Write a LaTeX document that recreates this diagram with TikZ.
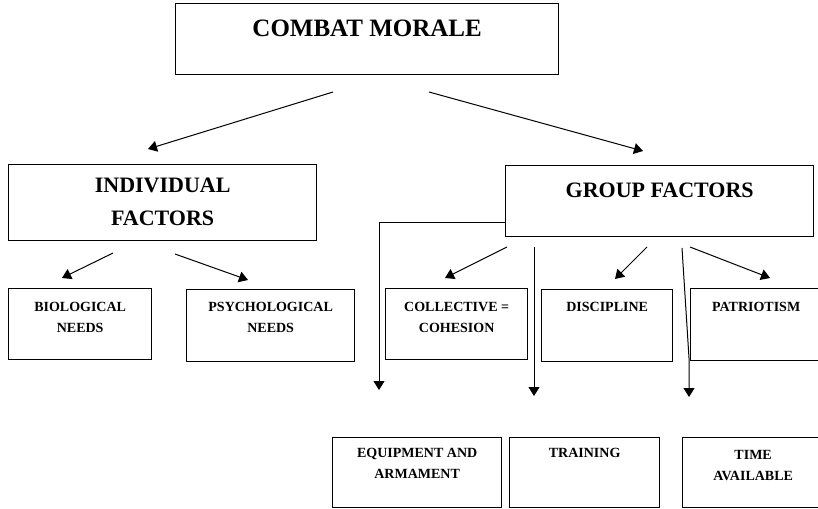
\documentclass[tikz,border=0pt]{standalone}
\usepackage{fontspec}
\setmainfont{Liberation Serif}
\usetikzlibrary{arrows.meta,positioning}
\begin{document}
\begin{tikzpicture}[x=1pt,y=-1pt,
 box/.style={draw, line width=1.3pt, inner sep=0, anchor=north west},
 big/.style={font=\bfseries\fontsize{25}{30}\selectfont, inner sep=0},
 mid/.style={font=\bfseries\fontsize{22}{33}\selectfont, align=center, inner sep=0},
 small/.style={font=\bfseries\fontsize{14}{21}\selectfont, align=center, inner sep=0},
 arr/.style={line width=1pt, -{Triangle[length=9pt,width=11pt]}},
 ln/.style={line width=1pt}]
\useasboundingbox (0,0) rectangle (818,508);
% boxes
\node[box, minimum width=383pt, minimum height=71pt] (cm) at (175,3) {};
\node[box, minimum width=308pt, minimum height=76pt] (ind) at (8,164) {};
\node[box, minimum width=308pt, minimum height=71pt] (gf) at (505,165) {};
\node[box, minimum width=143pt, minimum height=71pt] (bio) at (8,288) {};
\node[box, minimum width=168pt, minimum height=72pt] (psy) at (186,289) {};
\node[box, minimum width=142pt, minimum height=71pt] (col) at (385,288) {};
\node[box, minimum width=131pt, minimum height=72pt] (dis) at (541,289) {};
\node[box, minimum width=131pt, minimum height=72pt] (pat) at (690,288) {};
\node[box, minimum width=169pt, minimum height=70pt] (eq) at (332,437) {};
\node[box, minimum width=150pt, minimum height=70pt] (tr) at (509,437) {};
\node[box, minimum width=141pt, minimum height=70pt] (tim) at (682,437) {};
% texts
\node[big, below=17pt of cm.north] (cmT) {COMBAT MORALE};
\node[mid, below=14pt of ind.north] (indT) {INDIVIDUAL\\FACTORS};
\node[mid, below=18pt of gf.north] (gfT) {GROUP FACTORS};
\node[small, below=14pt of bio.north] (bioT) {BIOLOGICAL\\NEEDS};
\node[small, below=13pt of psy.north] (psyT) {PSYCHOLOGICAL\\NEEDS};
\node[small, below=14pt of col.north] (colT) {COLLECTIVE =\\COHESION};
\node[small, below=13pt of dis.north] (disT) {DISCIPLINE};
\node[small, below=14pt of pat.north] (patT) {PATRIOTISM};
\node[small, below=11pt of eq.north] (eqT) {EQUIPMENT AND\\ARMAMENT};
\node[small, below=11pt of tr.north] (trT) {TRAINING};
\node[small, below=13pt of tim.north] (timT) {TIME\\AVAILABLE};
% connector end points
\coordinate (a1s) at (333,92);  \coordinate (a1e) at (148,149);
\coordinate (a2s) at (429,92);  \coordinate (a2e) at (643,151);
\coordinate (b1s) at (113,253); \coordinate (b1e) at (62,278);
\coordinate (b2s) at (175,254); \coordinate (b2e) at (248,280);
\coordinate (c1s) at (507,247); \coordinate (c1e) at (445,278);
\coordinate (c2s) at (647,247); \coordinate (c2e) at (615,279);
\coordinate (c3s) at (690,247); \coordinate (c3e) at (770,278);
\coordinate (v1s) at (505,222); \coordinate (v1m) at (379,222); \coordinate (v1e) at (379,390);
\coordinate (v2s) at (534,247); \coordinate (v2e) at (534,396);
\coordinate (v3s) at (682,248); \coordinate (v3m) at (689,358); \coordinate (v3e) at (689,397);
% connectors
\draw[arr] (a1s) -- (a1e);
\draw[arr] (a2s) -- (a2e);
\draw[arr] (b1s) -- (b1e);
\draw[arr] (b2s) -- (b2e);
\draw[arr] (c1s) -- (c1e);
\draw[arr] (c2s) -- (c2e);
\draw[arr] (c3s) -- (c3e);
\draw[arr] (v1s) -- (v1m) -- (v1e);
\draw[arr] (v2s) -- (v2e);
\draw[arr] (v3s) -- (v3m) -- (v3e);
\end{tikzpicture}
\end{document}
